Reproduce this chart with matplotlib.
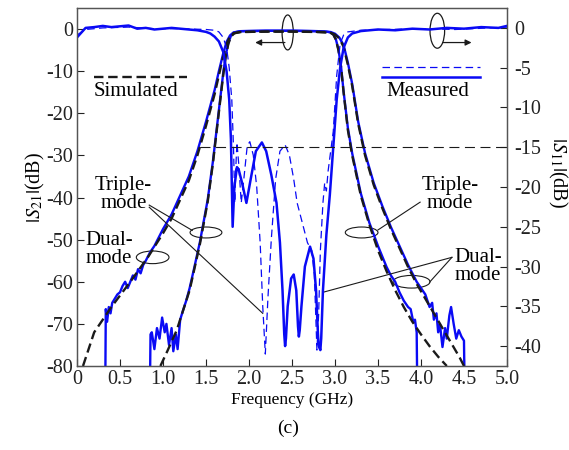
import matplotlib
matplotlib.use("Agg")
import matplotlib.pyplot as plt
from matplotlib.patches import Ellipse

plt.rcParams['font.family'] = 'serif'
plt.rcParams['font.serif'] = ['Liberation Serif', 'DejaVu Serif']
plt.rcParams['mathtext.fontset'] = 'stix'
plt.rcParams['axes.unicode_minus'] = False

BLUE = '#0a0af5'
INK = '#1a1a1a'

# simulated |S21| (dB), dual-mode filter
f_dual_sim = [0.07, 0.2, 0.4, 0.62, 0.83, 1.0, 1.1, 1.2, 1.3, 1.4, 1.5, 1.6, 1.65, 1.7,
              1.74, 1.78, 1.82, 1.9, 2.2, 2.5, 2.8, 2.95, 3.0, 3.05, 3.1, 3.15, 3.2, 3.27,
              3.35, 3.45, 3.55, 3.65, 3.75, 3.85, 3.95, 4.05, 4.15, 4.25, 4.35, 4.45, 4.5]
s21_dual_sim = [-80, -72, -66, -60, -54, -48.5, -45, -40.5, -36, -30, -23, -15.5, -11, -6.5,
                -3.5, -1.7, -1.0, -0.7, -0.6, -0.6, -0.7, -0.9, -1.3, -2.2, -4.2, -8.5, -13.5, -22.5,
                -30, -37, -42.5, -47.5, -52, -56.5, -60.5, -64, -67.5, -71, -74.5, -78, -80]

# simulated |S21| (dB), triple-mode filter
f_tri_sim = [0.97, 1.05, 1.16, 1.31, 1.43, 1.52, 1.58, 1.62, 1.66, 1.7, 1.73, 1.76, 1.79,
             1.83, 1.9, 2.2, 2.5, 2.9, 2.95, 2.98, 3.01, 3.04, 3.07, 3.1, 3.15, 3.2, 3.3,
             3.4, 3.5, 3.6, 3.7, 3.8, 3.9, 4.0, 4.1, 4.2, 4.3]
s21_tri_sim = [-80, -76.5, -71.5, -62, -51, -41, -32, -25, -18, -11, -6.5, -3.5, -1.8,
               -1.0, -0.7, -0.6, -0.6, -0.7, -0.9, -1.3, -2.5, -5, -9, -15, -24, -30, -39.5,
               -46.5, -52.5, -57.5, -62, -66, -69.5, -72.5, -75.3, -77.8, -80]

# measured |S21| (dB), dual-mode filter
f_dual_meas = [0.33, 0.335, 0.35, 0.37, 0.39, 0.41, 0.44, 0.47, 0.5, 0.53, 0.56, 0.59, 0.62,
               0.65, 0.68, 0.71, 0.74, 0.77, 0.8, 0.85, 0.9, 1.0, 1.1, 1.2, 1.3, 1.4, 1.5,
               1.6, 1.65, 1.7, 1.74, 1.78, 1.82, 1.9, 2.2, 2.5, 2.8, 2.95, 3.0, 3.05, 3.1,
               3.15, 3.2, 3.27, 3.35, 3.45, 3.55, 3.65, 3.75, 3.85, 3.9, 3.95, 4.0, 4.05,
               4.1, 4.13, 4.15, 4.18, 4.2, 4.22, 4.25, 4.28, 4.3, 4.33, 4.35, 4.38, 4.41,
               4.44, 4.47, 4.5, 4.505]
s21_dual_meas = [-82, -66.5, -69.5, -66, -67.5, -65, -64, -63, -62.5, -61, -60, -61.5, -60,
                 -58.5, -59.5, -57, -58, -56, -55, -53, -51.5, -47.5, -44, -39.5, -35, -29, -22,
                 -14.5, -10, -5.8, -3, -1.5, -0.8, -0.5, -0.4, -0.4, -0.5, -0.7, -1.1, -2, -3.8,
                 -8, -13, -22, -29.5, -36.5, -42, -47, -51.5, -56, -58, -60, -61.5, -63,
                 -66, -65, -69, -67.5, -72, -70, -75.5, -71, -73.5, -68, -66, -70, -73.5,
                 -71.5, -73, -74, -82]

# measured |S21| (dB), triple-mode filter
f_tri_meas = [0.85, 0.855, 0.87, 0.9, 0.93, 0.96, 0.99, 1.02, 1.04, 1.07, 1.1, 1.12, 1.15,
              1.17, 1.2, 1.23, 1.27, 1.31, 1.36, 1.43, 1.52, 1.58, 1.62, 1.66, 1.7, 1.73,
              1.76, 1.79, 1.83, 1.9, 2.2, 2.5, 2.8, 2.9, 2.95, 2.98, 3.01, 3.04, 3.07, 3.1,
              3.15, 3.2, 3.3, 3.4, 3.5, 3.55, 3.6, 3.65, 3.7, 3.75, 3.8, 3.85, 3.88, 3.91,
              3.93, 3.95, 3.955]
s21_tri_meas = [-82, -72.5, -72, -76, -71, -73.5, -68.5, -72, -70, -75, -71, -76.5, -72.5,
                -76, -69, -67, -64.5, -61.5, -57, -50.5, -40.5, -31.5, -24.5, -17.5, -10.5, -6.2,
                -3.3, -1.6, -0.8, -0.5, -0.4, -0.4, -0.5, -0.6, -0.8, -1.2, -2.4, -4.8, -8.8, -14.8,
                -23.5, -29.5, -39, -46, -51.5, -54, -56.5, -58.5, -60, -62.5, -64.5, -66, -66.5,
                -69.5, -69, -72, -82]

# measured |S11| (dB), dual-mode filter
f_s11_dual = [0.0, 0.05, 0.1, 0.2, 0.3, 0.4, 0.5, 0.6, 0.7, 0.8, 0.9, 1.0, 1.1, 1.2, 1.3,
              1.4, 1.5, 1.55, 1.6, 1.65, 1.7, 1.74, 1.77, 1.79, 1.81, 1.83, 1.86, 1.88,
              1.92, 1.97, 2.02, 2.08, 2.15, 2.2, 2.26, 2.32, 2.36, 2.39, 2.41, 2.42, 2.43,
              2.45, 2.49, 2.52, 2.55, 2.57, 2.58, 2.59, 2.61, 2.65, 2.71, 2.75, 2.78, 2.8,
              2.81, 2.83, 2.84, 2.86, 2.9, 2.94, 2.98, 3.02, 3.06, 3.1, 3.15, 3.2, 3.3,
              3.5, 3.7, 3.9, 4.1, 4.3, 4.5, 4.7, 4.9, 5.0]
s11_dual = [-1.2, -0.6, 0.0, 0.1, 0.25, 0.1, 0.2, 0.3, -0.1, 0.0, -0.2, -0.1, 0.0, -0.1, -0.2,
            -0.3, -0.5, -0.7, -1.1, -1.7, -3.0, -5.5, -9, -14, -25, -20, -17.5, -17.8,
            -19.5, -22, -19, -15.5, -14.4, -15.5, -18.5, -22, -27, -33, -38.5, -40, -39,
            -35, -31.5, -31, -33, -37.5, -38.8, -38, -35, -30, -27.5, -29, -33, -38,
            -40, -40.5, -39, -33, -26, -21, -15, -9, -5, -2.5, -1.2, -0.7, -0.4,
            -0.2, -0.3, -0.1, -0.2, 0.0, -0.1, 0.1, 0.0, 0.25]

# measured |S11| (dB), triple-mode filter
f_s11_tri = [0.0, 0.1, 0.3, 0.6, 0.9, 1.2, 1.5, 1.6, 1.65, 1.7, 1.74, 1.77, 1.8, 1.82,
             1.835, 1.845, 1.86, 1.88, 1.91, 1.94, 1.98, 2.01, 2.05, 2.09, 2.13, 2.16, 2.19,
             2.22, 2.26, 2.31, 2.36, 2.42, 2.47, 2.52, 2.56, 2.62, 2.68, 2.73, 2.76, 2.79,
             2.81, 2.83, 2.86, 2.88, 2.9, 2.92, 2.95, 2.98, 3.02, 3.06, 3.1, 3.15, 3.3,
             3.6, 4.0, 4.4, 4.8, 5.0]
s11_tri = [-0.9, -0.2, 0.0, 0.1, -0.1, -0.1, -0.2, -0.3, -0.5, -1.2, -2.5, -5, -9, -15,
           -22, -18, -14.4, -17, -22, -19, -14.8, -14.3, -16, -20, -27, -35, -41,
           -34, -26.5, -19, -15.5, -14.7, -16, -19, -22, -24.5, -27, -28, -31, -40.5,
           -36, -28, -22, -19.5, -20.5, -18, -15.5, -13, -6, -2, -0.9, -0.5, -0.3,
           -0.2, -0.1, -0.2, 0.0, 0.1]

x_ticks = [0, 0.5, 1.0, 1.5, 2.0, 2.5, 3.0, 3.5, 4.0, 4.5, 5.0]
x_labels = ['0', '0.5', '1.0', '1.5', '2.0', '2.5', '3.0', '3.5', '4.0', '4.5', '5.0']
s21_ticks = [0, -10, -20, -30, -40, -50, -60, -70, -80]
s11_ticks = [0, -5, -10, -15, -20, -25, -30, -35, -40]
s11_ref = -15

fig = plt.figure(figsize=(5.69, 4.5), dpi=100)
ax = fig.add_axes([0.1353, 0.1867, 0.7557, 0.7955])
ax2 = ax.twinx()

sim_kw = dict(color=INK, lw=1.7, dashes=(4, 2))
ax.plot(f_dual_sim, s21_dual_sim, **sim_kw, zorder=3)
ax.plot(f_tri_sim, s21_tri_sim, **sim_kw, zorder=3)
ax.plot(f_dual_meas, s21_dual_meas, color=BLUE, lw=1.7, zorder=2)
ax.plot(f_tri_meas, s21_tri_meas, color=BLUE, lw=1.7, zorder=2)

ax2.plot(f_s11_dual, s11_dual, color=BLUE, lw=1.8)
ax2.plot(f_s11_tri, s11_tri, color=BLUE, lw=0.9, dashes=(6, 3.5))
ax2.hlines(s11_ref, 1.43, 5.0, color=INK, lw=0.8, linestyles=(0, (9, 5)))

ax.set_xlim(0, 5.0)
ax.set_ylim(-80, 5)
ax2.set_ylim(-42.5, 2.5)
ax.set_xticks(x_ticks)
ax.set_xticklabels(x_labels)
ax.set_yticks(s21_ticks)
ax2.set_yticks(s11_ticks)

for a in (ax, ax2):
    a.tick_params(direction='in', length=5, width=0.8, labelsize=14.5, colors='#222222')
    for s in a.spines.values():
        s.set_color('#555555')
        s.set_linewidth(0.9)
ax.tick_params(axis='x', pad=3)
ax.tick_params(axis='y', pad=3)
ax2.tick_params(axis='y', pad=5)

ax.set_ylabel(r'$|S_{21}|$(dB)', fontsize=14.5, labelpad=-1)
ax2.set_ylabel(r'$|S_{11}|$(dB)', fontsize=14.5, rotation=270, va='center')
ax2.yaxis.set_label_coords(1.118, 0.54)
ax.set_xlabel('Frequency (GHz)', fontsize=12.5, labelpad=2)
fig.text(0.507, 0.048, '(c)', ha='center', va='center', fontsize=14)

# legend drawn by hand
ax.plot([0.2, 1.28], [-11.4, -11.4], color=INK, lw=1.7, dashes=(4, 2))
ax.text(0.69, -14.8, 'Simulated', ha='center', va='center', fontsize=15)
ax.plot([3.55, 4.69], [-9.0, -9.0], color=BLUE, lw=0.9, dashes=(6, 3.5))
ax.plot([3.55, 4.69], [-11.4, -11.4], color=BLUE, lw=1.8)
ax.text(4.08, -14.8, 'Measured', ha='center', va='center', fontsize=15)

# axis indicators at the top
for cx, cy, w, x0, x1 in [(2.45, -0.8, 0.13, 2.45, 2.04), (4.19, -0.4, 0.17, 4.22, 4.62)]:
    ax.add_patch(Ellipse((cx, cy), w, 8.3, fill=False, color=INK, lw=0.9))
    ax.annotate('', xy=(x1, -3.2), xytext=(x0, -3.2),
                arrowprops=dict(arrowstyle='-|>', color=INK, lw=0.9, mutation_scale=9))

# mode callouts
txt = dict(fontsize=15, ha='center', va='center', linespacing=0.95)
ax.text(0.54, -39.3, 'Triple-\nmode', **txt)
ax.text(0.37, -52.4, 'Dual-\nmode', **txt)
ax.text(4.34, -39.3, 'Triple-\nmode', **txt)
ax.text(4.66, -56.3, 'Dual-\nmode', **txt)

line_kw = dict(color=INK, lw=0.8)
for (xa, ya), (xb, yb) in [((0.84, -41.8), (1.34, -47.8)),
                           ((0.84, -42.3), (2.16, -67.5)),
                           ((3.99, -41.1), (3.5, -47.7)),
                           ((4.36, -54.2), (4.1, -60.1)),
                           ((4.36, -54.2), (2.86, -62.5))]:
    ax.plot([xa, xb], [ya, yb], **line_kw)

for cx, cy, w, h in [(1.5, -48.3, 0.37, 2.6), (0.88, -54.2, 0.38, 3.0),
                     (3.31, -48.3, 0.38, 2.6), (3.89, -60.0, 0.43, 3.0)]:
    ax.add_patch(Ellipse((cx, cy), w, h, fill=False, color=INK, lw=0.8))

fig.savefig('out.png', dpi=100)
